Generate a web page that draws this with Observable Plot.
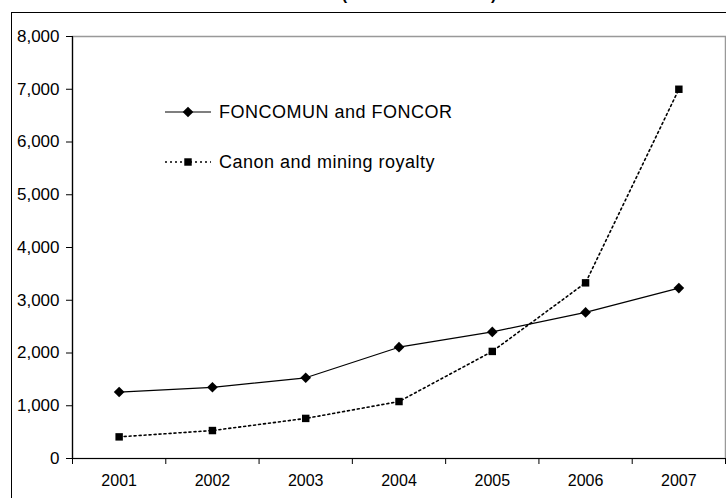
<!DOCTYPE html>
<html>
<head>
<meta charset="utf-8">
<script src="https://cdn.jsdelivr.net/npm/d3@7"></script>
<script src="https://cdn.jsdelivr.net/npm/@observablehq/plot@0.6"></script>
<style>
  html, body { margin: 0; padding: 0; background: #fff; overflow: hidden; }
  #wrap { position: relative; width: 726px; height: 498px; overflow: hidden; font-family: "Liberation Sans", Arial, sans-serif; }
  #outer { position: absolute; left: 11px; top: 12px; width: 900px; height: 700px; border: 1.5px solid #000; box-sizing: border-box; }
  #chart { position: absolute; left: 0; top: 0; }
  #overlay { position: absolute; left: 0; top: 0; }
</style>
</head>
<body>
<div id="wrap">
  <div id="outer"></div>
  <div id="chart"></div>
  <svg id="overlay" width="726" height="498"></svg>
</div>
<script>
// ---- data ----
const years = [2001, 2002, 2003, 2004, 2005, 2006, 2007];
const foncomun = [1260, 1350, 1530, 2110, 2400, 2770, 3230];
const canon = [410, 530, 760, 1080, 2030, 3330, 7000];
const yTicks = [0, 1000, 2000, 3000, 4000, 5000, 6000, 7000, 8000];
const seriesNames = ["FONCOMUN and FONCOR", "Canon and mining royalty"];
const titleText = "(In millions of soles)";

const fData = years.map((y, i) => ({year: y, value: foncomun[i]}));
const cData = years.map((y, i) => ({year: y, value: canon[i]}));
const bounds = years.map(y => y - 0.5).concat([years[years.length - 1] + 0.5]);

const chart = Plot.plot({
  width: 726,
  height: 498,
  marginLeft: 72,
  marginTop: 36,
  marginRight: 1,
  marginBottom: 40,
  x: {type: "linear", domain: [bounds[0], bounds[bounds.length - 1]]},
  y: {domain: [0, 8000]},
  style: {fontFamily: "'Liberation Sans', Arial, sans-serif", fontSize: "16px", color: "#000", background: "transparent", overflow: "visible"},
  marks: [
    Plot.frame({stroke: "#999", strokeWidth: 1.5}),
    Plot.ruleY([0], {stroke: "#000", strokeWidth: 1.2}),
    Plot.ruleX([bounds[0]], {stroke: "#000", strokeWidth: 1.2}),
    Plot.axisY({ticks: yTicks, tickFormat: d3.format(","), tickSize: 6, tickPadding: 7, label: null, stroke: "#000", fontSize: 17}),
    Plot.axisX({ticks: bounds, tickFormat: () => "", tickSize: 6, label: null, stroke: "#000"}),
    Plot.axisX({ticks: years, tickFormat: d => String(d), tickSize: 0, tickPadding: 16, label: null}),
    Plot.line(fData, {x: "year", y: "value", stroke: "#000", strokeWidth: 1.2}),
    Plot.line(cData, {x: "year", y: "value", stroke: "#000", strokeWidth: 1.6, strokeDasharray: "2,3"}),
    Plot.dot(fData, {x: "year", y: "value", symbol: "diamond2", r: 4.8, fill: "#000", stroke: "none"}),
    Plot.dot(cData, {x: "year", y: "value", symbol: "square", r: 4.2, fill: "#000", stroke: "none"})
  ]
});
document.getElementById("chart").appendChild(chart);

// ---- title (clipped at top, as in the reference) and legend ----
const ov = d3.select("#overlay");
ov.append("text")
  .attr("x", 419).attr("y", 0)
  .attr("text-anchor", "middle")
  .attr("font-family", "'Liberation Sans', Arial, sans-serif")
  .attr("font-size", 16).attr("font-weight", "bold")
  .text(titleText);

const legendRows = [
  {name: seriesNames[0], y: 112, dash: null, sw: 1.2, sym: d3.symbolDiamond2, r: 4.8},
  {name: seriesNames[1], y: 162, dash: "2,3", sw: 1.6, sym: d3.symbolSquare, r: 4.2}
];
legendRows.forEach(row => {
  const g = ov.append("g");
  const l = g.append("line").attr("x1", 165).attr("x2", 211).attr("y1", row.y).attr("y2", row.y)
    .attr("stroke", "#000").attr("stroke-width", row.sw);
  if (row.dash) l.attr("stroke-dasharray", row.dash);
  g.append("path").attr("transform", `translate(188,${row.y})`)
    .attr("d", d3.symbol(row.sym, row.r * row.r * Math.PI)()).attr("fill", "#000");
  g.append("text").attr("x", 219).attr("y", row.y).attr("dy", "0.35em")
    .attr("font-family", "'Liberation Sans', Arial, sans-serif").attr("font-size", 18)
    .attr("letter-spacing", 0.5)
    .text(row.name);
});
</script>
</body>
</html>
